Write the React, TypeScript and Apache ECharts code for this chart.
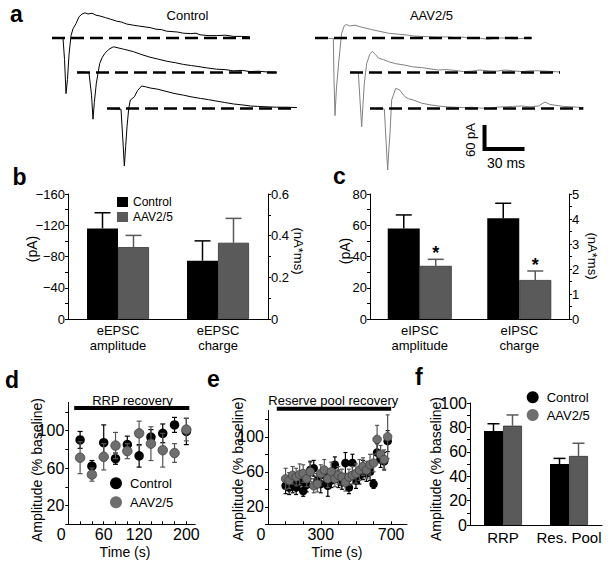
import React, { useEffect, useRef } from 'react';
import * as echarts from 'echarts';

const FONT = '"Liberation Sans", Arial, Helvetica, sans-serif';
const BLACK = '#000000';
const GRAY_BAR = '#5a5a5a';
const GRAY_DOT = '#6e6e6e';
const GRAY_ERR = '#555555';
const GRAY_TRACE = '#808080';

// ---------------- Panel a: example traces ([ms from trace start, pA from baseline]) ----------------
const ctrlTrace1 = [[0,0],[3,-1],[6,1],[8.25,0],[9.4,-54],[10.5,-139],[11.6,-104],[12.75,-42],[14.25,6],[15.75,23],[18,36],[20.25,53],[22.5,60],[24.75,63],[27,60],[30,62],[33,57],[36,55],[40,51],[44,47],[48.5,42],[52,40],[56,35],[61,32],[65,30],[69,28],[73.5,26],[78,22],[82,21],[86,17],[90,16],[94,15],[98.5,12],[104,11],[108,12],[111,8],[117,6],[123.5,6],[130,7],[136,4],[142,4],[148.5,3]];
const ctrlTrace2 = [[0,0],[4,1],[9,-1],[10.9,-57],[12,-117],[13,-75],[14.5,-27],[17,22],[19,38],[21,48],[24,58],[27.25,64],[30,62],[35,58],[42.25,52],[48,45],[54.75,38],[61,33],[67.25,28],[74,24],[79.75,20],[86,17],[92.25,14],[98,11],[104.75,8],[111,7],[117.25,4],[124,5],[129.75,2],[136,3],[143,1],[149.75,0]];
const ctrlTrace3 = [[0,0],[5,-1],[10.5,-2],[11.9,-79],[13,-144],[14,-95],[15,-46],[16.3,0],[17.5,21],[20.5,29],[23,45],[26,56],[29,54],[32.5,51],[38,48],[45,42],[51,37],[57.5,33],[63,29],[70,25],[76,22],[82.5,18],[88,15],[95,11],[101,9],[107.5,6],[113,5],[120,4],[127,3],[135,3],[142.5,2]];
const aavTrace1 = [[0,0],[5,1],[10,-1],[13.75,-1],[14.25,-104],[15,-194],[16,-130],[17.5,-71],[19,-20],[20,12],[22,31],[23.75,34],[26,30],[30,32],[35,27],[42.5,21],[48,17],[55,12],[61,10],[67.5,8],[74,5],[80,4],[86,3],[92.5,2],[98,3],[105,1],[111,2],[117.5,0],[124,-1],[130,-3],[136,0],[142.5,0],[149,-2],[156,-1],[162.5,-1]];
const aavTrace2 = [[0,0],[3,1],[6.25,-1],[7.5,-69],[8.75,-136],[9.75,-80],[10.75,-27],[12.5,22],[15,47],[16.75,52],[19,45],[21.25,36],[25,32],[28.75,27],[34,22],[41.25,18],[47,14],[53.75,12],[60,9],[66.25,6],[72,7],[78.75,5],[85,2],[91.25,3],[97,6],[103.75,4],[110,3],[116.25,6],[122,4],[128.75,2],[135,4],[141.25,4],[148,3],[157.5,1]];
const aavTrace3 = [[0,0],[5,-1],[10.75,-1.5],[12,-79],[13.25,-154],[14.2,-100],[15,-62],[16.25,21],[17.5,33],[19.25,50],[21,48],[22.5,45],[24.5,36],[26.25,29],[29,24],[32.5,21],[38.75,13],[45,9],[51.25,6],[57,4],[63.75,3],[70,2],[76.25,3],[82,1],[88.75,0],[95,3],[101.25,4],[107,5],[113.75,6],[120,4],[126.25,6],[131.25,16],[135,10],[138.75,8],[145,5],[151.25,4],[156,3],[160,2]];
// layout of the traces (offsets in ms / pA)
const traceBaselines = [0, -86, -176];
const ctrlTraceStarts = [39, 57.75, 80.25];
const aavTraceStarts = [236.25, 262.5, 277.5];
const scaleBarMs = 30;
const scaleBarPa = 60;
const scaleBarCorner = [363.4, -277.5];

// ---------------- Panel b ----------------
const bCategories = ['eEPSC\namplitude', 'eEPSC\ncharge'];
const bAmpControl = -116, bAmpControlErr = 20;
const bAmpAav = -92, bAmpAavErr = 15;
const bChargeControl = 0.28, bChargeControlErr = 0.095;
const bChargeAav = 0.366, bChargeAavErr = 0.117;
const bLeftTicks = [-160, -140, -120, -100, -80, -60, -40, -20, 0];
const bLeftLabels = [-160, -120, -80, -40, 0];
const bRightTicks = [0, 0.1, 0.2, 0.3, 0.4, 0.5, 0.6];
const bRightLabels = [0, 0.2, 0.4, 0.6];

// ---------------- Panel c ----------------
const cCategories = ['eIPSC\namplitude', 'eIPSC\ncharge'];
const cAmpControl = 58, cAmpControlErr = 8.6;
const cAmpAav = 34, cAmpAavErr = 4.2;
const cChargeControl = 4.03, cChargeControlErr = 0.6;
const cChargeAav = 1.56, cChargeAavErr = 0.36;
const cLeftTicks = [0, 10, 20, 30, 40, 50, 60, 70, 80];
const cLeftLabels = [0, 20, 40, 60, 80];
const cRightTicks = [0, 0.5, 1, 1.5, 2, 2.5, 3, 3.5, 4, 4.5, 5];
const cRightLabels = [0, 1, 2, 3, 4, 5];

// ---------------- Panel d ----------------
const dTimes = [20, 40, 60, 80, 100, 120, 140, 160, 180, 200];
const dControl = [90, 62, 87, 70, 85, 73, 93, 97, 106, 99];
const dControlErr = [9, 6, 19, 6, 9, 12, 8, 10, 8, 14];
const dAav = [71, 53, 72, 84, 78, 97, 86, 79, 76, 101];
const dAavErr = [17, 7, 14, 14, 8, 13, 18, 18, 10, 12];
const dXTicks = [0, 20, 40, 60, 80, 100, 120, 140, 160, 180, 200];
const dXLabels = [0, 60, 120, 200];
const dYTicks = [0, 20, 40, 60, 80, 100, 120];
const dYLabels = [20, 60, 100];
const dRecovery = [10, 205];

// ---------------- Panel e ----------------
const eTimes = [100,120,140,160,180,200,220,240,260,280,300,320,340,360,380,400,420,440,460,480,500,520,540,560,580,600,620,640,660,680];
const eControl = [44,42,46,42,48,38,45,62,64,50,46,56,44,50,68,52,48,70,42,70,50,56,62,58,60,46,82,74,72,95];
const eControlErr = [9,8,10,8,9,6,8,10,9,8,10,9,12,8,9,10,8,12,7,10,9,10,11,9,10,5,10,9,10,12];
const eAav = [52,50,56,54,57,58,52,60,44,46,58,62,52,60,52,56,54,48,54,56,58,62,66,62,68,70,97,80,74,100];
const eAavErr = [12,9,10,10,12,10,9,11,8,9,10,12,10,11,9,10,9,10,9,10,11,12,10,10,12,10,16,10,11,25];
const eXTicks = [0, 100, 200, 300, 400, 500, 600, 700];
const eXLabels = [0, 300, 700];
const eYTicks = [0, 20, 40, 60, 80, 100, 120];
const eYLabels = [20, 60, 100];
const eRecovery = [50, 700];

// ---------------- Panel f ----------------
const fCategories = ['RRP', 'Res. Pool'];
const fControl = [77, 50];
const fControlErr = [6, 4.6];
const fAav = [81.4, 56.6];
const fAavErr = [8.8, 10.4];
const fYTicks = [0, 10, 20, 30, 40, 50, 60, 70, 80, 90, 100];
const fYLabels = [0, 20, 40, 60, 80, 100];

// ---------------- helpers ----------------
function barErrors(barW: number, cap: number) {
  return (params: any, api: any) => {
    const cat = api.value(0);
    const mean = api.value(1);
    const err = api.value(2);
    const side = api.value(3);
    const star = api.value(4);
    const tip = mean + (mean < 0 ? -err : err);
    const p0 = api.coord([cat, mean]);
    const p1 = api.coord([cat, tip]);
    const x = p0[0] + (side * barW) / 2;
    const color = side < 0 ? BLACK : GRAY_BAR;
    const children: any[] = [
      { type: 'line', shape: { x1: x, y1: p0[1], x2: x, y2: p1[1] }, style: { stroke: color, lineWidth: 1.5 } },
      { type: 'line', shape: { x1: x - cap / 2, y1: p1[1], x2: x + cap / 2, y2: p1[1] }, style: { stroke: color, lineWidth: 1.5 } },
    ];
    if (star) {
      children.push({
        type: 'text', x, y: p1[1] - 6,
        style: { text: '*', fontSize: 18, fontFamily: FONT, fontWeight: 'bold', fill: BLACK, align: 'center', verticalAlign: 'middle' },
      });
    }
    return { type: 'group', children };
  };
}

function pointErrors(cap: number, color: string) {
  return (params: any, api: any) => {
    const x = api.value(0);
    const m = api.value(1);
    const e = api.value(2);
    const top = api.coord([x, m + e]);
    const bot = api.coord([x, m - e]);
    const st = { stroke: color, lineWidth: 1.2 };
    return {
      type: 'group',
      children: [
        { type: 'line', shape: { x1: top[0], y1: top[1], x2: bot[0], y2: bot[1] }, style: st },
        { type: 'line', shape: { x1: top[0] - cap / 2, y1: top[1], x2: top[0] + cap / 2, y2: top[1] }, style: st },
        { type: 'line', shape: { x1: bot[0] - cap / 2, y1: bot[1], x2: bot[0] + cap / 2, y2: bot[1] }, style: st },
      ],
    };
  };
}

const axisLine = { show: true, onZero: false, lineStyle: { color: BLACK, width: 1 } };
const lbl = (fontSize: number, margin: number, extra: any = {}) => ({ color: BLACK, fontFamily: FONT, fontSize, margin, ...extra });
const zeroRich = { z: { padding: [0, 14, 0, 0], fontSize: 16, fontFamily: FONT, color: BLACK } };

function txt(text: string, x: number, y: number, size: number, extra: any = {}, weight = 'normal', align = 'center') {
  return {
    type: 'text', x, y, silent: true, ...extra,
    style: { text, fontSize: size, fontFamily: FONT, fontWeight: weight, fill: BLACK, align, verticalAlign: 'middle' },
  };
}

function buildOption() {
  const traceSeries: any[] = [];
  const ctrlTraces = [ctrlTrace1, ctrlTrace2, ctrlTrace3];
  const aavTraces = [aavTrace1, aavTrace2, aavTrace3];
  const addTrace = (tr: number[][], start: number, base: number, color: string) => {
    traceSeries.push({
      type: 'line', xAxisIndex: 0, yAxisIndex: 0, symbol: 'none', silent: true, z: 2,
      data: tr.map(([t, v]) => [t + start, v + base]),
      lineStyle: { color, width: 1 },
    });
    const last = tr[tr.length - 1][0];
    traceSeries.push({
      type: 'line', xAxisIndex: 0, yAxisIndex: 0, symbol: 'none', silent: true, z: 3,
      data: [[start, base], [start + last, base]],
      lineStyle: { color: BLACK, width: 2.5, type: [13, 6] },
    });
  };
  ctrlTraces.forEach((tr, i) => addTrace(tr, ctrlTraceStarts[i], traceBaselines[i], BLACK));
  aavTraces.forEach((tr, i) => addTrace(tr, aavTraceStarts[i], traceBaselines[i], GRAY_TRACE));
  traceSeries.push({
    type: 'line', xAxisIndex: 0, yAxisIndex: 0, symbol: 'none', silent: true, z: 3,
    data: [
      [scaleBarCorner[0], scaleBarCorner[1] + scaleBarPa],
      [scaleBarCorner[0], scaleBarCorner[1]],
      [scaleBarCorner[0] + scaleBarMs, scaleBarCorner[1]],
    ],
    lineStyle: { color: BLACK, width: 4, cap: 'butt', join: 'miter' },
  });

  const bar = (name: string, xi: number, yi: number, data: any[], w: number, gray: boolean) => ({
    type: 'bar', name, xAxisIndex: xi, yAxisIndex: yi, data, barWidth: w, barGap: '0%', silent: true, z: 2,
    itemStyle: gray ? { color: GRAY_BAR, borderColor: '#333333', borderWidth: 0.8 } : { color: BLACK },
  });

  const series: any[] = [
    ...traceSeries,
    // panel b
    bar('Control', 1, 1, [bAmpControl, '-'], 31, false),
    bar('AAV2/5', 1, 1, [bAmpAav, '-'], 31, true),
    bar('Control', 2, 2, ['-', bChargeControl], 31, false),
    bar('AAV2/5', 2, 2, ['-', bChargeAav], 31, true),
    { type: 'custom', xAxisIndex: 1, yAxisIndex: 1, z: 4, silent: true, renderItem: barErrors(31, 16),
      data: [[0, bAmpControl, bAmpControlErr, -1, 0], [0, bAmpAav, bAmpAavErr, 1, 0]] },
    { type: 'custom', xAxisIndex: 2, yAxisIndex: 2, z: 4, silent: true, renderItem: barErrors(31, 16),
      data: [[1, bChargeControl, bChargeControlErr, -1, 0], [1, bChargeAav, bChargeAavErr, 1, 0]] },
    // panel c
    bar('Control', 3, 3, [cAmpControl, '-'], 32, false),
    bar('AAV2/5', 3, 3, [cAmpAav, '-'], 32, true),
    bar('Control', 4, 4, ['-', cChargeControl], 32, false),
    bar('AAV2/5', 4, 4, ['-', cChargeAav], 32, true),
    { type: 'custom', xAxisIndex: 3, yAxisIndex: 3, z: 4, silent: true, renderItem: barErrors(32, 16),
      data: [[0, cAmpControl, cAmpControlErr, -1, 0], [0, cAmpAav, cAmpAavErr, 1, 1]] },
    { type: 'custom', xAxisIndex: 4, yAxisIndex: 4, z: 4, silent: true, renderItem: barErrors(32, 16),
      data: [[1, cChargeControl, cChargeControlErr, -1, 0], [1, cChargeAav, cChargeAavErr, 1, 1]] },
    // panel d
    { type: 'line', xAxisIndex: 5, yAxisIndex: 5, symbol: 'none', silent: true, clip: false, z: 2,
      data: [[dRecovery[0], 124], [dRecovery[1], 124]], lineStyle: { color: BLACK, width: 4, cap: 'butt' } },
    { type: 'custom', xAxisIndex: 5, yAxisIndex: 5, z: 3, silent: true, renderItem: pointErrors(5, BLACK),
      data: dTimes.map((t, i) => [t, dControl[i], dControlErr[i]]) },
    { type: 'scatter', name: 'Control', xAxisIndex: 5, yAxisIndex: 5, z: 4, silent: true, symbolSize: 9.5,
      data: dTimes.map((t, i) => [t, dControl[i]]), itemStyle: { color: BLACK, opacity: 1 } },
    { type: 'custom', xAxisIndex: 5, yAxisIndex: 5, z: 5, silent: true, renderItem: pointErrors(5, GRAY_ERR),
      data: dTimes.map((t, i) => [t, dAav[i], dAavErr[i]]) },
    { type: 'scatter', name: 'AAV2/5', xAxisIndex: 5, yAxisIndex: 5, z: 6, silent: true, symbolSize: 9.5,
      data: dTimes.map((t, i) => [t, dAav[i]]), itemStyle: { color: GRAY_DOT, borderColor: '#404040', borderWidth: 0.8, opacity: 1 } },
    // panel e
    { type: 'line', xAxisIndex: 6, yAxisIndex: 6, symbol: 'none', silent: true, clip: false, z: 2,
      data: [[eRecovery[0], 132], [eRecovery[1], 132]], lineStyle: { color: BLACK, width: 4, cap: 'butt' } },
    { type: 'custom', xAxisIndex: 6, yAxisIndex: 6, z: 3, silent: true, renderItem: pointErrors(4, BLACK),
      data: eTimes.map((t, i) => [t, eControl[i], eControlErr[i]]) },
    { type: 'scatter', name: 'Control', xAxisIndex: 6, yAxisIndex: 6, z: 4, silent: true, symbolSize: 8.5,
      data: eTimes.map((t, i) => [t, eControl[i]]), itemStyle: { color: BLACK, opacity: 1 } },
    { type: 'custom', xAxisIndex: 6, yAxisIndex: 6, z: 5, silent: true, renderItem: pointErrors(4, GRAY_ERR),
      data: eTimes.map((t, i) => [t, eAav[i], eAavErr[i]]) },
    { type: 'scatter', name: 'AAV2/5', xAxisIndex: 6, yAxisIndex: 6, z: 6, silent: true, symbolSize: 8.5,
      data: eTimes.map((t, i) => [t, eAav[i]]), itemStyle: { color: GRAY_DOT, borderColor: '#404040', borderWidth: 0.8, opacity: 1 } },
    // panel f
    bar('Control', 7, 7, fControl, 19, false),
    bar('AAV2/5', 7, 7, fAav, 19, true),
    { type: 'custom', xAxisIndex: 7, yAxisIndex: 7, z: 4, silent: true, renderItem: barErrors(19, 12),
      data: [
        [0, fControl[0], fControlErr[0], -1, 0], [1, fControl[1], fControlErr[1], -1, 0],
        [0, fAav[0], fAavErr[0], 1, 0], [1, fAav[1], fAavErr[1], 1, 0],
      ] },
  ];

  const option: any = {
    animation: false,
    textStyle: { fontFamily: FONT, color: BLACK },
    grid: [
      { left: 0, top: 0, width: 610, height: 190 },
      { left: 68, top: 194, width: 200, height: 125 },
      { left: 370, top: 194, width: 199, height: 125 },
      { left: 68.3, top: 402.4, width: 126.9, height: 121.9 },
      { left: 268, top: 410.5, width: 139, height: 113.8 },
      { left: 470, top: 403, width: 132, height: 122 },
    ],
    xAxis: [
      { gridIndex: 0, type: 'value', min: 0, max: 457.5, show: false },
      { gridIndex: 1, type: 'category', data: bCategories, position: 'bottom', axisLine, axisTick: { show: false },
        axisLabel: lbl(13, 4, { lineHeight: 15, interval: 0 }) },
      { gridIndex: 1, type: 'category', data: bCategories, show: false },
      { gridIndex: 2, type: 'category', data: cCategories, position: 'bottom', axisLine, axisTick: { show: false },
        axisLabel: lbl(13, 4, { lineHeight: 15, interval: 0 }) },
      { gridIndex: 2, type: 'category', data: cCategories, show: false },
      { gridIndex: 3, type: 'value', min: 0, max: 215, interval: 20, axisLine, splitLine: { show: false },
        axisTick: { show: true, inside: true, length: 3, customValues: dXTicks, lineStyle: { color: BLACK } },
        axisLabel: lbl(16, 2, { customValues: dXLabels, rich: zeroRich,
          formatter: (v: number) => (v === 0 ? '{z|0}' : dXLabels.includes(v) ? String(v) : '') }) },
      { gridIndex: 4, type: 'value', min: 0, max: 790, interval: 100, axisLine, splitLine: { show: false },
        axisTick: { show: true, inside: true, length: 3, customValues: eXTicks, lineStyle: { color: BLACK } },
        axisLabel: lbl(16, 2, { customValues: eXLabels, rich: zeroRich,
          formatter: (v: number) => (v === 0 ? '{z|0}' : eXLabels.includes(v) ? String(v) : '') }) },
      { gridIndex: 5, type: 'category', data: fCategories, position: 'bottom', axisLine, axisTick: { show: false },
        axisLabel: lbl(15, 5, { interval: 0 }) },
    ],
    yAxis: [
      { gridIndex: 0, type: 'value', min: -380, max: 95, show: false },
      { gridIndex: 1, type: 'value', inverse: true, min: -160, max: 0, interval: 20, axisLine, splitLine: { show: false },
        axisTick: { show: true, length: 3, customValues: bLeftTicks, lineStyle: { color: BLACK } },
        axisLabel: lbl(13, 3, { customValues: bLeftLabels,
          formatter: (v: number) => (v === 0 ? '0' : bLeftLabels.includes(v) ? '\u2212' + Math.abs(v) : '') }) },
      { gridIndex: 1, type: 'value', position: 'right', min: 0, max: 0.6, interval: 0.1, axisLine, splitLine: { show: false },
        axisTick: { show: true, length: 3, customValues: bRightTicks, lineStyle: { color: BLACK } },
        axisLabel: lbl(13, 3, { customValues: bRightLabels,
          formatter: (v: number) => { const k = Math.round(v * 10); return k % 2 !== 0 ? '' : k === 0 ? '0' : (k / 10).toFixed(1); } }) },
      { gridIndex: 2, type: 'value', min: 0, max: 80, interval: 10, axisLine, splitLine: { show: false },
        axisTick: { show: true, length: 3, customValues: cLeftTicks, lineStyle: { color: BLACK } },
        axisLabel: lbl(13, 3, { customValues: cLeftLabels, formatter: (v: number) => (v % 20 === 0 ? String(v) : '') }) },
      { gridIndex: 2, type: 'value', position: 'right', min: 0, max: 5, interval: 0.5, axisLine, splitLine: { show: false },
        axisTick: { show: true, length: 3, customValues: cRightTicks, lineStyle: { color: BLACK } },
        axisLabel: lbl(13, 3, { customValues: cRightLabels,
          formatter: (v: number) => (Math.abs(v - Math.round(v)) < 1e-6 ? String(Math.round(v)) : '') }) },
      { gridIndex: 3, type: 'value', min: 0, max: 130, interval: 20, axisLine, splitLine: { show: false },
        axisTick: { show: true, length: 3, customValues: dYTicks, lineStyle: { color: BLACK } },
        axisLabel: lbl(16, 4, { customValues: dYLabels, formatter: (v: number) => (dYLabels.includes(v) ? String(v) : '') }) },
      { gridIndex: 4, type: 'value', min: 0, max: 130, interval: 20, axisLine, splitLine: { show: false },
        axisTick: { show: true, length: 3, customValues: eYTicks, lineStyle: { color: BLACK } },
        axisLabel: lbl(16, 4, { customValues: eYLabels, formatter: (v: number) => (eYLabels.includes(v) ? String(v) : '') }) },
      { gridIndex: 5, type: 'value', min: 0, max: 100, interval: 10, axisLine, splitLine: { show: false },
        axisTick: { show: true, length: 3, customValues: fYTicks, lineStyle: { color: BLACK } },
        axisLabel: lbl(16, 3, { customValues: fYLabels, formatter: (v: number) => (v % 20 === 0 ? String(v) : '') }) },
    ],
    legend: [
      { left: 117, top: 196, orient: 'vertical', padding: 0, itemWidth: 11, itemHeight: 10, itemGap: 3, selectedMode: false,
        textStyle: { fontSize: 12, color: BLACK, fontFamily: FONT },
        data: [
          { name: 'Control', icon: 'rect', itemStyle: { color: BLACK, borderWidth: 0 } },
          { name: 'AAV2/5', icon: 'rect', itemStyle: { color: GRAY_BAR, borderWidth: 0 } },
        ] },
      { left: 110, top: 476.8, orient: 'vertical', padding: 0, itemWidth: 12, itemHeight: 12, itemGap: 6, selectedMode: false,
        textStyle: { fontSize: 13, color: BLACK, fontFamily: FONT, padding: [0, 0, 0, 3] },
        data: [
          { name: 'Control', icon: 'circle', itemStyle: { color: BLACK, borderWidth: 0 } },
          { name: 'AAV2/5', icon: 'circle', itemStyle: { color: GRAY_DOT, borderWidth: 0 } },
        ] },
      { left: 526.7, top: 390.8, orient: 'vertical', padding: 0, itemWidth: 12, itemHeight: 12, itemGap: 4.7, selectedMode: false,
        textStyle: { fontSize: 13, color: BLACK, fontFamily: FONT, padding: [0, 0, 0, 3] },
        data: [
          { name: 'Control', icon: 'circle', itemStyle: { color: BLACK, borderWidth: 0 } },
          { name: 'AAV2/5', icon: 'circle', itemStyle: { color: GRAY_DOT, borderWidth: 0 } },
        ] },
    ],
    graphic: [
      txt('a', 10, 13.5, 23, {}, 'bold', 'left'),
      txt('b', 12.5, 177, 23, {}, 'bold', 'left'),
      txt('c', 333, 176, 23, {}, 'bold', 'left'),
      txt('d', 5, 380, 23, {}, 'bold', 'left'),
      txt('e', 207, 379, 23, {}, 'bold', 'left'),
      txt('f', 415, 377, 23, {}, 'bold', 'left'),
      txt('Control', 187.5, 15, 13),
      txt('AAV2/5', 431.5, 15, 13),
      txt('60 pA', 470, 140, 13, { rotation: Math.PI / 2 }),
      txt('30 ms', 506, 163, 14),
      txt('(pA)', 32, 249, 14, { rotation: Math.PI / 2 }),
      txt('(nA*ms)', 298, 251, 13, { rotation: -Math.PI / 2 }),
      txt('(pA)', 345, 251, 14, { rotation: Math.PI / 2 }),
      txt('(nA*ms)', 592, 256, 13, { rotation: -Math.PI / 2 }),
      txt('RRP recovery', 132.5, 400, 13),
      txt('Reserve pool recovery', 333.3, 400, 13),
      txt('Amplitude (% baseline)', 37, 470, 14, { rotation: Math.PI / 2 }),
      txt('Amplitude (% baseline)', 238, 469, 14, { rotation: Math.PI / 2 }),
      txt('Amplitude (% baseline)', 435.5, 469, 14, { rotation: Math.PI / 2 }),
      txt('Time (s)', 125, 552, 14),
      txt('Time (s)', 337, 552, 14),
    ],
    series,
  };
  return option;
}

export default function App() {
  const ref = useRef<HTMLDivElement | null>(null);
  useEffect(() => {
    if (!ref.current) return;
    const chart = echarts.init(ref.current, undefined, { renderer: 'svg' });
    chart.setOption(buildOption());
    return () => chart.dispose();
  }, []);
  return (
    <div
      ref={ref}
      style={{ position: 'absolute', left: 0, top: 0, width: 610, height: 566, background: '#ffffff' }}
    />
  );
}
